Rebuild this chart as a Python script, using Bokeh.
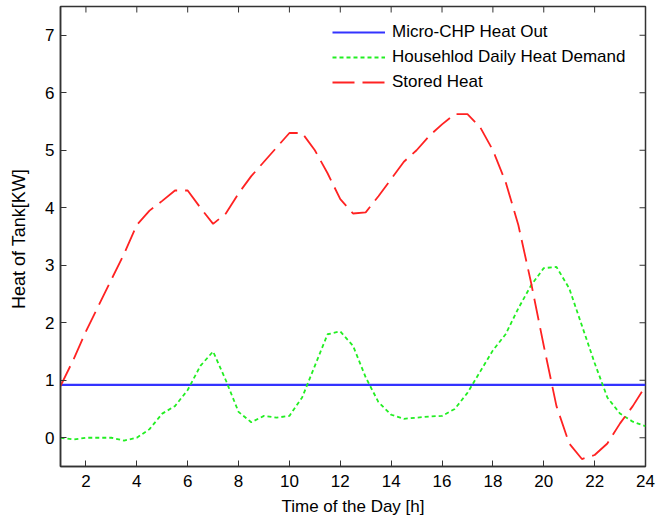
from bokeh.plotting import figure
from bokeh.models import Range1d, FixedTicker, Legend, LegendItem
from bokeh.embed import file_html
from bokeh.resources import INLINE

hours = [1.0, 1.5, 2.0, 2.5, 3.0, 3.5, 4.0, 4.5, 5.0, 5.5, 6.0, 6.5, 7.0, 7.5, 8.0, 8.5,
         9.0, 9.5, 10.0, 10.5, 11.0, 11.5, 12.0, 12.5, 13.0, 13.5, 14.0, 14.5, 15.0, 15.5,
         16.0, 16.5, 17.0, 17.5, 18.0, 18.5, 19.0, 19.5, 20.0, 20.5, 21.0, 21.5, 22.0, 22.5,
         23.0, 23.5, 24.0]
chp_heat = [0.92] * len(hours)
demand = [0.0, -0.03, 0.0, 0.0, 0.0, -0.05, 0.0, 0.15, 0.42, 0.55, 0.83, 1.25, 1.5, 1.0,
          0.45, 0.27, 0.38, 0.35, 0.38, 0.7, 1.25, 1.8, 1.85, 1.6, 1.05, 0.62, 0.4, 0.33,
          0.35, 0.37, 0.38, 0.5, 0.78, 1.15, 1.52, 1.8, 2.25, 2.65, 2.95, 2.97, 2.6, 1.95,
          1.3, 0.7, 0.42, 0.28, 0.2]
stored = [0.9, 1.35, 1.85, 2.3, 2.75, 3.2, 3.7, 3.95, 4.12, 4.3, 4.3, 4.0, 3.72, 3.9,
          4.25, 4.55, 4.8, 5.05, 5.3, 5.3, 5.0, 4.6, 4.15, 3.9, 3.92, 4.2, 4.5, 4.8, 5.0,
          5.25, 5.45, 5.63, 5.63, 5.4, 5.0, 4.45, 3.7, 2.7, 1.6, 0.55, -0.1, -0.37, -0.3,
          -0.1, 0.25, 0.55, 0.9]
x_ticks = [2, 4, 6, 8, 10, 12, 14, 16, 18, 20, 22, 24]
y_ticks = [0, 1, 2, 3, 4, 5, 6, 7]

FONT = "Liberation Sans"
FS = "17px"
AX = "#333333"
X0, X1, Y0, Y1 = 1, 24, -0.5, 7.5
W, H = 660, 520
BL, BR, BT, BB = 60, 15, 6, 54
TICK = 6  # px

p = figure(width=W, height=H, output_backend="svg", toolbar_location=None,
           x_range=Range1d(X0, X1), y_range=Range1d(Y0, Y1),
           min_border_left=BL, min_border_right=BR, min_border_top=BT, min_border_bottom=BB)
p.outline_line_color = AX
p.outline_line_width = 1.5
p.grid.visible = False
p.background_fill_color = "white"

r_chp = p.line(hours, chp_heat, line_color="#3333ff", line_width=2.2)
r_dem = p.line(hours, demand, line_color="#22ee22", line_width=1.8, line_dash="4 3")
r_sto = p.line(hours, stored, line_color="#ff2222", line_width=1.8, line_dash="22 8")

# mirrored ticks on top and right edges (MATLAB box style)
fw = W - BL - BR
fh = H - BT - BB
dy = TICK * (Y1 - Y0) / fh
dx = TICK * (X1 - X0) / fw
p.segment(x0=x_ticks, y0=[Y1] * len(x_ticks), x1=x_ticks, y1=[Y1 - dy] * len(x_ticks),
          line_color=AX, line_width=1)
p.segment(x0=[X1] * len(y_ticks), y0=y_ticks, x1=[X1 - dx] * len(y_ticks), y1=y_ticks,
          line_color=AX, line_width=1)

for ax in (p.xaxis[0], p.yaxis[0]):
    ax.major_tick_in = TICK
    ax.major_tick_out = 0
    ax.minor_tick_line_color = None
    ax.axis_line_color = AX
    ax.axis_line_width = 1.5
    ax.major_tick_line_color = AX
    ax.major_label_text_font = FONT
    ax.major_label_text_font_size = FS
    ax.major_label_text_color = "black"
    ax.axis_label_text_font = FONT
    ax.axis_label_text_font_size = FS
    ax.axis_label_text_font_style = "normal"
    ax.axis_label_text_color = "black"

p.xaxis[0].ticker = FixedTicker(ticks=x_ticks)
p.yaxis[0].ticker = FixedTicker(ticks=y_ticks)
p.xaxis[0].axis_label = "Time of the Day [h]"
p.yaxis[0].axis_label = "Heat of  Tank[KW]"
p.yaxis[0].axis_label_text_font_size = "18px"
p.xaxis[0].major_label_standoff = 8
p.yaxis[0].major_label_standoff = 6
p.xaxis[0].axis_label_standoff = 7
p.yaxis[0].axis_label_standoff = 13

legend = Legend(items=[LegendItem(label="Micro-CHP Heat Out", renderers=[r_chp]),
                       LegendItem(label="Househlod Daily Heat Demand", renderers=[r_dem]),
                       LegendItem(label="Stored Heat", renderers=[r_sto])],
                location=(272, 374), glyph_width=53, glyph_height=20, spacing=5,
                label_standoff=7, padding=0, margin=0,
                border_line_color=None, background_fill_alpha=0,
                label_text_font=FONT, label_text_font_size=FS, label_text_color="black")
p.add_layout(legend, "center")

open("out.html", "w").write(file_html(p, INLINE))
